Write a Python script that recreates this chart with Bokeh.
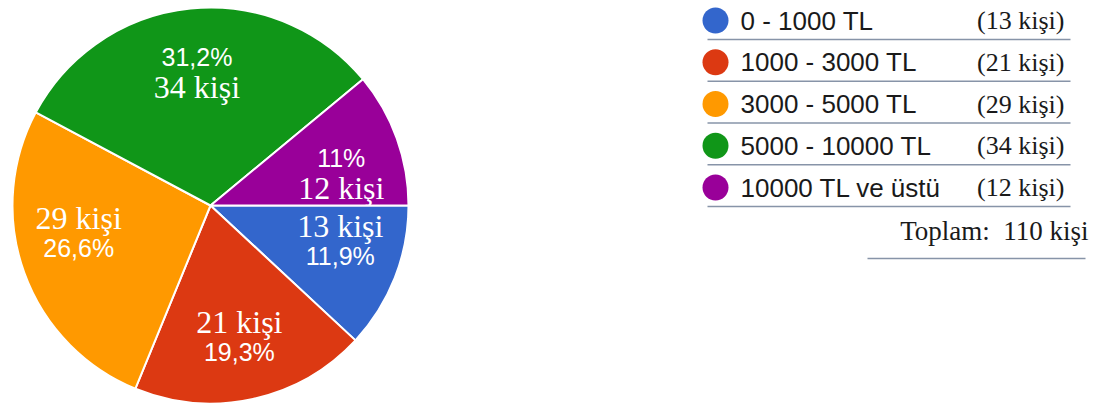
import numpy as np
from bokeh.plotting import figure
from bokeh.models import Range1d, ColumnDataSource
from bokeh.core.properties import value
from bokeh.embed import file_html
from bokeh.resources import INLINE

# ---- data ----
categories = ["0 - 1000 TL", "1000 - 3000 TL", "3000 - 5000 TL", "5000 - 10000 TL", "10000 TL ve üstü"]
counts = [13, 21, 29, 34, 12]
percent_labels = ["11,9%", "19,3%", "26,6%", "31,2%", "11%"]
total_count = 110
colors = ["#3366CC", "#DC3912", "#FF9900", "#109618", "#990099"]

count_labels = [f"{c} kişi" for c in counts]
legend_counts = [f"({c} kişi)" for c in counts]

# label placement nudges (degrees, clockwise) - style only
label_nudge_deg = [-6, 0, 8, 0, 6]

W, H = 1105, 406
SANS = "Liberation Sans"
SERIF = "Liberation Serif"

p = figure(width=W, height=H, x_range=Range1d(0, W), y_range=Range1d(0, H),
           output_backend="svg", toolbar_location=None, min_border=0)
p.axis.visible = False
p.xgrid.visible = False
p.ygrid.visible = False
p.outline_line_color = None
p.background_fill_color = "white"
p.border_fill_color = "white"

# ---- pie ----
cx, cy, R = 210, H - 205, 198
fr = np.array(counts, dtype=float) / sum(counts)
ends = np.cumsum(fr) * 2 * np.pi
starts = ends - fr * 2 * np.pi
pie_src = ColumnDataSource(dict(start=-ends, end=-starts, color=colors))
p.wedge(x=cx, y=cy, radius=R, start_angle="start", end_angle="end",
        fill_color="color", line_color="white", line_width=2, source=pie_src)

mid = (starts + ends) / 2 + np.radians(label_nudge_deg)
lr = 0.68 * R
lx = cx + lr * np.cos(mid)
ly = cy - lr * np.sin(mid)
gap = 15
ty, by = [], []
for i in range(len(counts)):
    if ly[i] > cy:  # upper half: percent above count
        pct_y, cnt_y = ly[i] + gap, ly[i] - gap
    else:
        cnt_y, pct_y = ly[i] + gap, ly[i] - gap
    ty.append(pct_y)
    by.append(cnt_y)

pct_src = ColumnDataSource(dict(x=lx, y=ty, t=percent_labels))
cnt_src = ColumnDataSource(dict(x=lx, y=by, t=count_labels))
p.text(x="x", y="y", text="t", source=pct_src, text_font=value(SANS),
       text_font_size="25px", text_color="white", text_align="center",
       text_baseline="middle")
p.text(x="x", y="y", text="t", source=cnt_src, text_font=value(SERIF),
       text_font_size="32px", text_color="white", text_align="center",
       text_baseline="middle")

# ---- legend ----
row_y = H - (20 + np.arange(len(categories)) * 41.75)
leg_src = ColumnDataSource(dict(y=row_y, line_y=row_y - 19, cat=categories,
                                cnt=legend_counts, color=colors))
p.scatter(x=715, y="y", size=26, marker="circle", fill_color="color",
          line_color=None, source=leg_src)
p.text(x=740, y="y", text="cat", source=leg_src, text_font=value(SANS),
       text_font_size="26px", text_color="#1a1a1a", text_baseline="middle")
p.text(x=1064, y="y", text="cnt", source=leg_src, text_font=value(SERIF),
       text_font_size="26px", text_color="#1a1a1a", text_align="right",
       text_baseline="middle")
p.segment(x0=707, x1=1070, y0="line_y", y1="line_y", source=leg_src,
          line_color="#8794a8", line_width=1.5)

p.text(x=[1088], y=[H - 230], text=[f"Toplam:\u00a0 {total_count} kişi"],
       text_font=value(SERIF), text_font_size="27px", text_color="#1a1a1a",
       text_align="right", text_baseline="middle")
p.segment(x0=[867], x1=[1085], y0=[H - 258], y1=[H - 258],
          line_color="#8794a8", line_width=1.5)

open("out.html", "w").write(file_html(p, INLINE))
